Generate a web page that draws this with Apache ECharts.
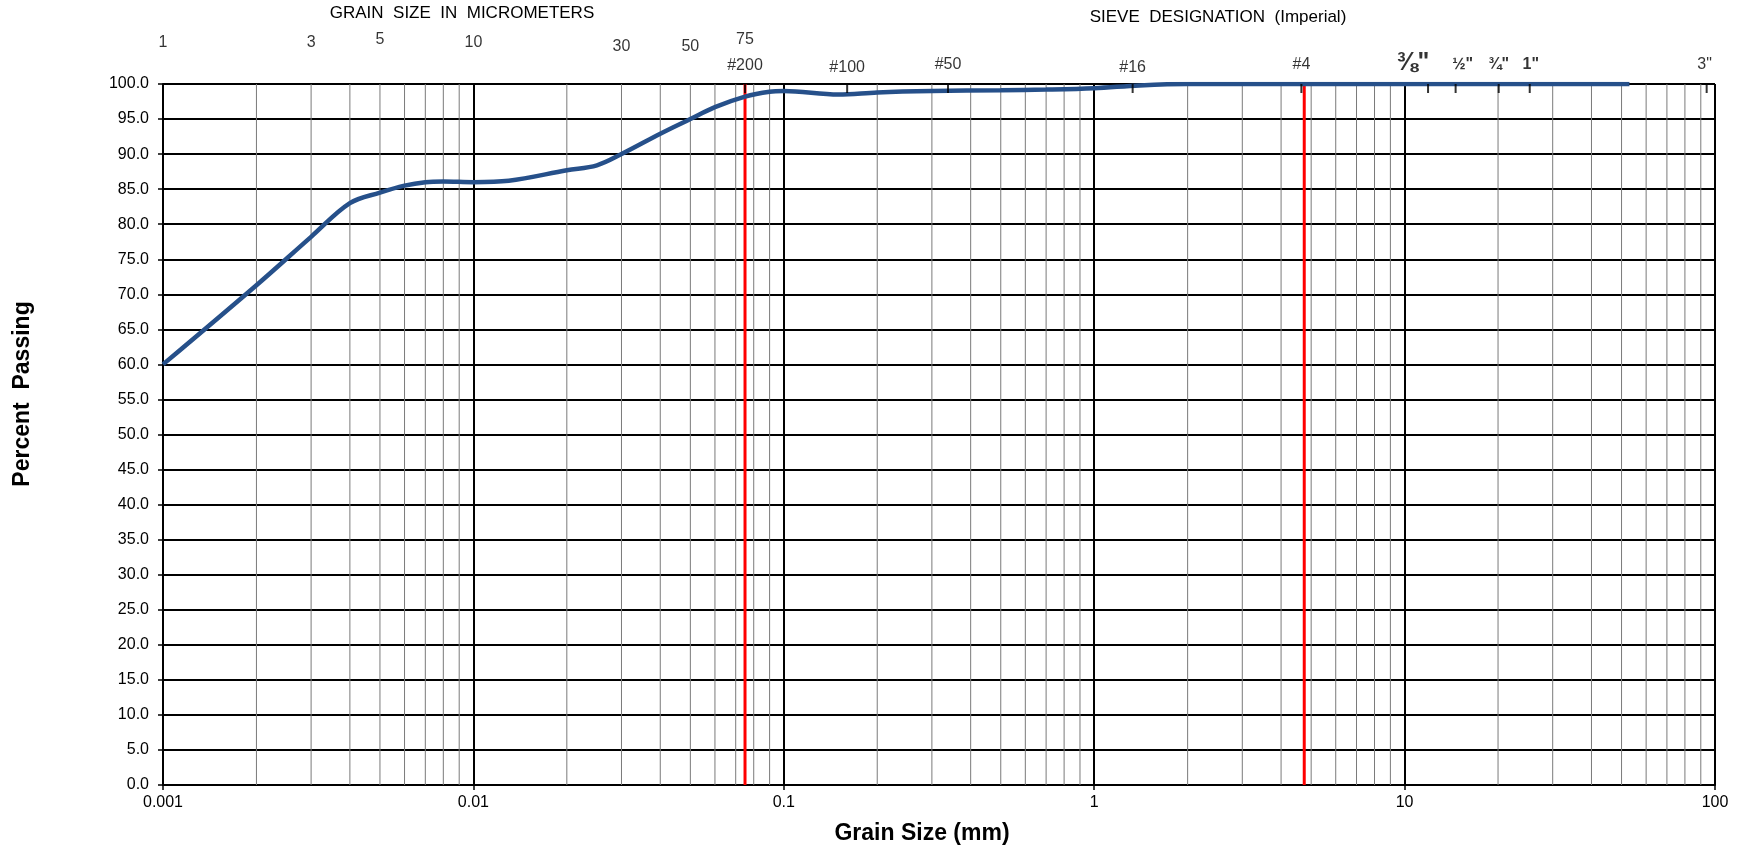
<!DOCTYPE html>
<html><head><meta charset="utf-8">
<script src="https://cdn.jsdelivr.net/npm/echarts@6/dist/echarts.min.js"></script>
<style>html,body{margin:0;padding:0;background:#fff}#c{width:1743px;height:850px}</style>
</head><body><div id="c"></div>
<script>
// ---- data ----
const grainSizeMm = [0.001, 0.002, 0.003, 0.004, 0.005, 0.006, 0.007, 0.008, 0.01, 0.013, 0.02, 0.025, 0.03, 0.04, 0.05, 0.06, 0.075, 0.09, 0.1, 0.15, 0.2, 0.3, 0.5, 0.7, 1.0, 1.4, 2.0, 4.75, 53];
const percentPassing = [60.0, 71.3, 78.2, 83.0, 84.5, 85.5, 86.0, 86.1, 86.0, 86.2, 87.7, 88.4, 90.0, 92.9, 95.0, 96.7, 98.2, 98.9, 99.0, 98.5, 98.8, 99.0, 99.1, 99.2, 99.4, 99.8, 100, 100, 100];
const xDecadeLabels = ['0.001', '0.01', '0.1', '1', '10', '100'];
const micronLabels = ['1', '3', '5', '10', '30', '50', '75'];
const micronSizesMm = [0.001, 0.003, 0.005, 0.01, 0.03, 0.05, 0.075];
const sieveLabels = ['#200', '#100', '#50', '#16', '#4', '\u215C"', '\u00BD"', '\u00BE"', '1"', '3"'];
const sieveTickMm = [0.075, 0.16, 0.338, 1.33, 4.65, 11.9, 14.6, 20.1, 25.3, 94];
const redLineMm = [0.075, 4.75];
const yMin = 0, yMax = 100, yStep = 5;

// ---- styling (not data) ----
const FONT = "'Liberation Sans', Arial, sans-serif";
const micronLift = {'1': 33, '3': 33, '5': 36, '10': 33, '30': 29, '50': 29, '75': 36};
const sieveLift = {'#200': 10, '#100': 8, '#16': 8, '\u215C"': 8};
const sieveFont = {'\u215C"': 25};
const sieveBold = {'\u215C"': true, '\u00BD"': true, '\u00BE"': true, '1"': true};
const sieveShift = {'\u215C"': -15, '\u00BD"': 7, '1"': 1, '3"': -2};
const minorGrid = [];
for (let e = -3; e < 2; e++) for (let m = 2; m <= 9; m++) minorGrid.push(+(m * Math.pow(10, e)).toPrecision(3));
// vertical full-height line segments separated by gaps
function vLines(xs) {
  const out = [];
  xs.forEach(v => { out.push([v, yMin], [v, yMax], [v, '-']); });
  return out;
}

const chart = echarts.init(document.getElementById('c'), null, {renderer: 'canvas'});
const option = {
  animation: false,
  backgroundColor: '#fff',
  textStyle: {fontFamily: FONT},
  grid: {left: 163, right: 28, top: 84, bottom: 65, containLabel: false},
  xAxis: {
    type: 'log', logBase: 10, min: 0.001, max: 100,
    axisLine: {show: true, lineStyle: {color: '#000', width: 2}},
    axisTick: {show: true, length: 5, lineStyle: {color: '#000', width: 1.5}},
    axisLabel: {color: '#000', fontSize: 16, fontFamily: FONT, margin: 10,
      formatter: v => xDecadeLabels[Math.round(Math.log10(v)) + 3]},
    splitLine: {show: true, lineStyle: {color: '#000', width: 2}},
    minorTick: {show: false}, minorSplitLine: {show: false}
  },
  yAxis: {
    type: 'value', min: yMin, max: yMax, interval: yStep,
    axisLine: {show: true, lineStyle: {color: '#000', width: 2}},
    axisTick: {show: true, length: 5, lineStyle: {color: '#000', width: 1.5}},
    axisLabel: {color: '#000', fontSize: 16, fontFamily: FONT, margin: 14, formatter: v => v.toFixed(1)},
    splitLine: {show: true, lineStyle: {color: '#000', width: 2}}
  },
  graphic: [
    {type: 'text', style: {text: 'GRAIN  SIZE  IN  MICROMETERS', font: "17px " + FONT, fill: '#000', textAlign: 'center', textVerticalAlign: 'middle'}, x: 462, y: 13},
    {type: 'text', style: {text: 'SIEVE  DESIGNATION  (Imperial)', font: "17px " + FONT, fill: '#000', textAlign: 'center', textVerticalAlign: 'middle'}, x: 1218, y: 17},
    {type: 'text', style: {text: 'Grain Size (mm)', font: "bold 23px " + FONT, fill: '#000', textAlign: 'center', textVerticalAlign: 'middle'}, x: 922, y: 834},
    {type: 'text', style: {text: 'Percent  Passing', font: "bold 23px " + FONT, fill: '#000', textAlign: 'center', textVerticalAlign: 'middle'}, x: 23, y: 394, rotation: Math.PI / 2}
  ],
  series: [
    {
      name: 'minor', type: 'line', z: 1, silent: true, symbol: 'none', connectNulls: false,
      lineStyle: {color: '#7a7a7a', width: 1},
      data: vLines(minorGrid)
    },
    {
      name: 'limits', type: 'line', z: 3, silent: true, symbol: 'none', connectNulls: false,
      lineStyle: {color: '#ff0000', width: 3},
      data: vLines(redLineMm)
    },
    {
      name: 'curve', type: 'line', z: 5, symbol: 'none', smooth: 0.35,
      lineStyle: {color: '#26508a', width: 4.5},
      data: grainSizeMm.map((x, i) => [x, percentPassing[i]])
    },
    {
      name: 'sieveTicks', type: 'scatter', z: 6, silent: true, clip: false,
      symbol: 'rect', symbolSize: [2, 9], symbolOffset: [0, 4.5],
      itemStyle: {color: '#000'},
      data: sieveTickMm.map(v => [v, yMax])
    },
    {
      name: 'sieveLabels', type: 'scatter', z: 6, silent: true, clip: false,
      symbolSize: 1, itemStyle: {color: 'rgba(0,0,0,0)'},
      data: sieveTickMm.map((v, i) => {
        const t = sieveLabels[i];
        return {
          value: [v, yMax],
          label: {show: true, position: 'top', distance: sieveLift[t] === undefined ? 11 : sieveLift[t],
            offset: [sieveShift[t] || 0, 0],
            formatter: t, color: '#000', fontFamily: FONT,
            fontWeight: sieveBold[t] ? 'bold' : 'normal',
            fontSize: sieveFont[t] || 16}
        };
      })
    },
    {
      name: 'micronLabels', type: 'scatter', z: 6, silent: true, clip: false,
      symbolSize: 1, itemStyle: {color: 'rgba(0,0,0,0)'},
      data: micronSizesMm.map((v, i) => ({
        value: [v, yMax],
        label: {show: true, position: 'top', distance: micronLift[micronLabels[i]],
          formatter: micronLabels[i], color: '#000', fontFamily: FONT, fontSize: 16}
      }))
    }
  ]
};
chart.setOption(option);
</script>
</body></html>
